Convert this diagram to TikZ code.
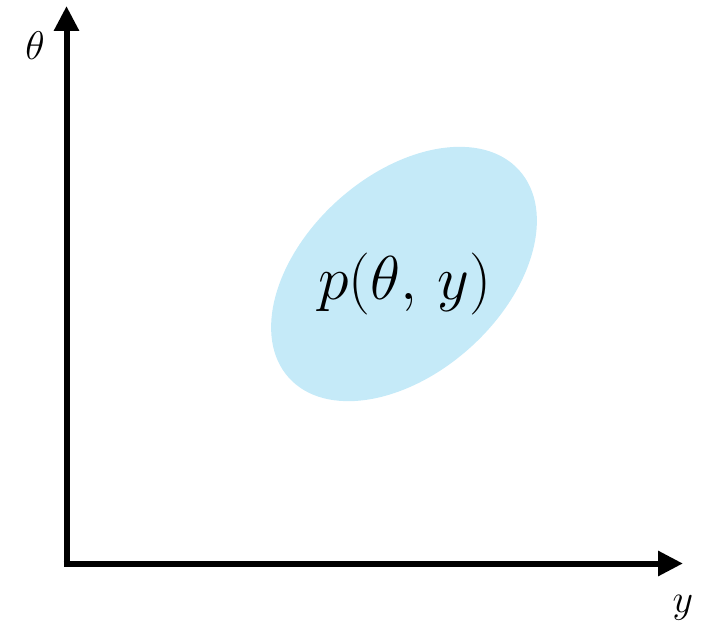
\RequirePackage{fix-cm}
\documentclass[tikz,border=0pt]{standalone}
\usetikzlibrary{arrows.meta}
\definecolor{blobblue}{HTML}{C5EAF8}
\begin{document}
\begin{tikzpicture}[x=1pt,y=1pt,
  axis/.style={line width=6pt,-{Triangle[length=25pt,width=24pt]}},
  axlabel/.style={font=\fontsize{40}{48}\selectfont},
  biglabel/.style={font=\fontsize{62}{74}\selectfont}]
\useasboundingbox (0,0) rectangle (702,630);
\coordinate (origin) at (66.5,66.5);
\coordinate (corner) at (63.5,66.5);
\coordinate (ytop) at (66.5,624);
\coordinate (xend) at (683,66.5);
\fill[blobblue,rotate around={42:(404,356)}] (404,356) ellipse [x radius=155, y radius=99];
\node[biglabel] (p) at (405,346) {$p(\theta,\,y)$};
\draw[axis] ([yshift=-3pt]origin) -- (ytop);
\draw[axis] (corner) -- (xend);
\node[axlabel] (th) at (35,584) {$\theta$};
\node[axlabel] (yl) at (683,22) {$y$};
\end{tikzpicture}
\end{document}
